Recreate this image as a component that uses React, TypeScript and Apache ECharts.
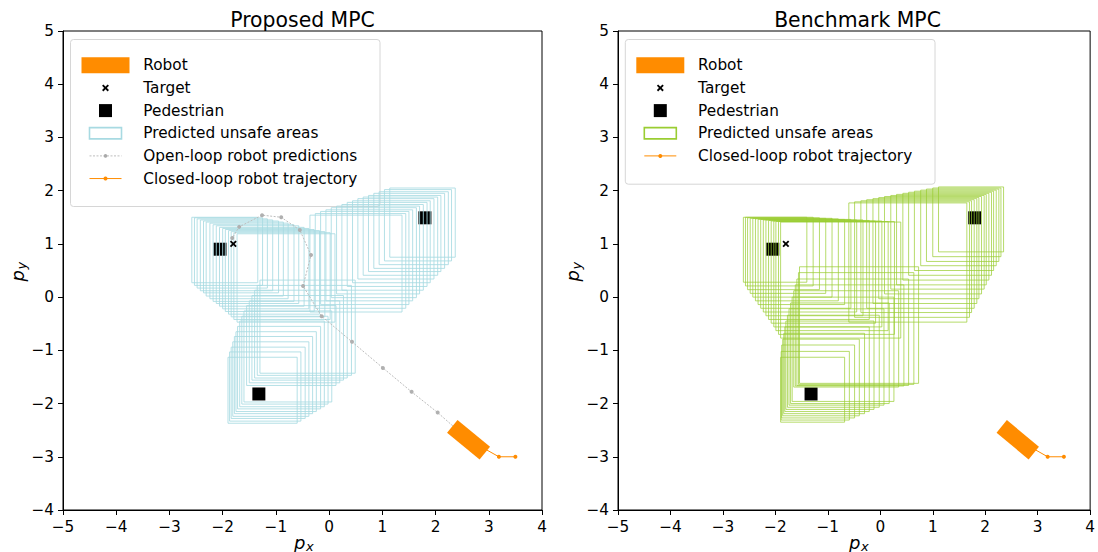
import React, { useEffect, useRef } from "react";
import * as echarts from "echarts";

// ---------------- data ----------------
const X_TICKS = [-5, -4, -3, -2, -1, 0, 1, 2, 3, 4];
const Y_TICKS = [-4, -3, -2, -1, 0, 1, 2, 3, 4, 5];
const PANEL_TITLES = ["Proposed MPC", "Benchmark MPC"];

const TARGET = [[-1.8, 1.0]];
const PEDESTRIANS = [
  [-2.05, 0.9],
  [1.8, 1.49],
  [-1.32, -1.82],
];
// robot: centre x, centre y, heading (deg)
const ROBOT = [[2.62, -2.68, 140.7]];
const CLOSED_LOOP = [
  [3.5, -3.0],
  [3.19, -3.0],
  [2.62, -2.68],
];
const OPEN_LOOP = [
  [2.62, -2.68],
  [2.04, -2.17],
  [1.55, -1.78],
  [1.01, -1.33],
  [0.43, -0.84],
  [-0.14, -0.36],
  [-0.49, 0.21],
  [-0.34, 0.79],
  [-0.55, 1.26],
  [-0.9, 1.5],
  [-1.26, 1.54],
  [-1.69, 1.32],
  [-1.82, 1.11],
];

// predicted unsafe areas: [x1, y1, x2, y2]
const PROPOSED_PED1 = [
  [-2.58, 0.27, -1.34, 1.5],
  [-2.53, 0.22, -1.25, 1.49],
  [-2.48, 0.17, -1.16, 1.47],
  [-2.42, 0.12, -1.06, 1.45],
  [-2.36, 0.08, -0.95, 1.43],
  [-2.31, 0.02, -0.86, 1.41],
  [-2.24, -0.03, -0.77, 1.39],
  [-2.18, -0.08, -0.66, 1.36],
  [-2.12, -0.12, -0.57, 1.34],
  [-2.06, -0.17, -0.47, 1.31],
  [-2.0, -0.22, -0.38, 1.29],
  [-1.95, -0.27, -0.28, 1.27],
  [-1.89, -0.32, -0.18, 1.25],
  [-1.84, -0.37, -0.08, 1.23],
  [-1.79, -0.42, 0.02, 1.21],
  [-1.73, -0.47, 0.11, 1.19],
];
const PROPOSED_PED3 = [
  [-1.9, -2.37, -0.6, -1.13],
  [-1.87, -2.33, -0.53, -1.03],
  [-1.84, -2.28, -0.45, -0.94],
  [-1.81, -2.24, -0.38, -0.84],
  [-1.78, -2.19, -0.31, -0.74],
  [-1.75, -2.15, -0.24, -0.65],
  [-1.72, -2.1, -0.16, -0.55],
  [-1.68, -2.06, -0.09, -0.45],
  [-1.64, -2.01, -0.02, -0.36],
  [-1.6, -1.97, 0.05, -0.26],
  [-1.55, -1.66, 0.13, -0.16],
  [-1.5, -1.61, 0.2, -0.07],
  [-1.45, -1.56, 0.27, 0.03],
  [-1.4, -1.52, 0.34, 0.13],
  [-1.35, -1.47, 0.42, 0.22],
  [-1.3, -1.43, 0.49, 0.32],
];
const PROPOSED_PED2 = [
  [1.14, 0.75, 2.37, 2.05],
  [1.04, 0.68, 2.3, 2.02],
  [0.94, 0.61, 2.24, 1.98],
  [0.84, 0.54, 2.17, 1.95],
  [0.74, 0.48, 2.1, 1.91],
  [0.64, 0.41, 2.04, 1.88],
  [0.54, 0.34, 1.97, 1.85],
  [0.44, 0.27, 1.9, 1.81],
  [0.34, 0.2, 1.84, 1.78],
  [0.24, 0.13, 1.77, 1.74],
  [0.14, 0.06, 1.7, 1.71],
  [0.04, -0.01, 1.64, 1.68],
  [-0.06, -0.07, 1.57, 1.64],
  [-0.16, -0.14, 1.5, 1.61],
  [-0.26, -0.21, 1.44, 1.57],
  [-0.36, -0.28, 1.37, 1.54],
];
const BENCH_PED1 = [
  [-2.61, 0.28, -1.4, 1.5],
  [-2.57, 0.21, -1.28, 1.5],
  [-2.53, 0.14, -1.16, 1.49],
  [-2.48, 0.07, -1.04, 1.48],
  [-2.43, 0.0, -0.92, 1.48],
  [-2.38, -0.07, -0.8, 1.47],
  [-2.33, -0.14, -0.68, 1.46],
  [-2.28, -0.21, -0.56, 1.46],
  [-2.23, -0.28, -0.45, 1.45],
  [-2.18, -0.35, -0.33, 1.45],
  [-2.13, -0.42, -0.21, 1.44],
  [-2.08, -0.49, -0.09, 1.43],
  [-2.03, -0.56, 0.03, 1.43],
  [-1.99, -0.63, 0.15, 1.42],
  [-1.94, -0.7, 0.27, 1.42],
  [-1.9, -0.77, 0.39, 1.41],
];
const BENCH_PED3 = [
  [-1.9, -2.35, -0.68, -1.13],
  [-1.89, -2.31, -0.59, -1.02],
  [-1.88, -2.27, -0.49, -0.9],
  [-1.86, -2.23, -0.4, -0.79],
  [-1.84, -2.19, -0.3, -0.68],
  [-1.82, -2.15, -0.21, -0.56],
  [-1.8, -2.11, -0.12, -0.45],
  [-1.77, -2.07, -0.02, -0.34],
  [-1.74, -2.03, 0.07, -0.22],
  [-1.71, -2.0, 0.17, -0.11],
  [-1.68, -1.96, 0.26, 0.0],
  [-1.65, -1.69, 0.35, 0.12],
  [-1.62, -1.67, 0.45, 0.23],
  [-1.59, -1.66, 0.54, 0.34],
  [-1.56, -1.64, 0.64, 0.46],
  [-1.54, -1.62, 0.73, 0.57],
];
const BENCH_PED2 = [
  [1.11, 0.85, 2.35, 2.07],
  [1.0, 0.76, 2.3, 2.05],
  [0.88, 0.67, 2.26, 2.03],
  [0.77, 0.59, 2.21, 2.01],
  [0.65, 0.5, 2.16, 1.99],
  [0.54, 0.41, 2.12, 1.97],
  [0.43, 0.32, 2.07, 1.95],
  [0.31, 0.23, 2.02, 1.93],
  [0.2, 0.15, 1.98, 1.91],
  [0.08, 0.06, 1.93, 1.89],
  [-0.03, -0.03, 1.88, 1.87],
  [-0.14, -0.12, 1.84, 1.85],
  [-0.26, -0.21, 1.79, 1.83],
  [-0.37, -0.29, 1.74, 1.81],
  [-0.49, -0.38, 1.7, 1.79],
  [-0.6, -0.47, 1.65, 1.77],
];

// ---------------- styles ----------------
const FONT = "DejaVu Sans";
const ORANGE = "#ff8c00";
const BLUE = "rgba(168,218,226,0.85)";
const BLUE_SOLID = "#a8dae2";
const GREEN = "rgba(154,205,50,0.72)";
const GREEN_SOLID = "#9acd32";
const GRAY = "#bdbdbd";
const ROBOT_LEN = 0.79;
const ROBOT_WID = 0.31;

const fmt = (v: number) => (v < 0 ? "\u2212" + -v : String(v));

function rectSeries(data: number[][], color: string, idx: number) {
  return {
    type: "custom",
    xAxisIndex: idx,
    yAxisIndex: idx,
    z: 2,
    silent: true,
    encode: { x: [0, 2], y: [1, 3] },
    data,
    renderItem: (_p: any, api: any) => {
      const a = api.coord([api.value(0), api.value(3)]);
      const b = api.coord([api.value(2), api.value(1)]);
      return {
        type: "rect",
        shape: { x: a[0], y: a[1], width: b[0] - a[0], height: b[1] - a[1] },
        style: { fill: "none", stroke: color, lineWidth: 1 },
      };
    },
  };
}

function robotSeries(idx: number) {
  return {
    type: "custom",
    xAxisIndex: idx,
    yAxisIndex: idx,
    z: 6,
    silent: true,
    data: ROBOT,
    renderItem: (_p: any, api: any) => {
      const cx = api.value(0);
      const cy = api.value(1);
      const ang = (api.value(2) * Math.PI) / 180;
      const ux = Math.cos(ang);
      const uy = Math.sin(ang);
      const L = ROBOT_LEN / 2;
      const W = ROBOT_WID / 2;
      const pts = [
        [L, W],
        [L, -W],
        [-L, -W],
        [-L, W],
      ].map(([a, b]) => api.coord([cx + a * ux - b * uy, cy + a * uy + b * ux]));
      return { type: "polygon", shape: { points: pts }, style: { fill: ORANGE } };
    },
  };
}

function targetSeries(idx: number) {
  return {
    type: "custom",
    xAxisIndex: idx,
    yAxisIndex: idx,
    z: 5,
    silent: true,
    data: TARGET,
    renderItem: (_p: any, api: any) => {
      const p = api.coord([api.value(0), api.value(1)]);
      const s = 2.8;
      const st = { stroke: "#000", lineWidth: 1.8 };
      return {
        type: "group",
        children: [
          { type: "line", shape: { x1: p[0] - s, y1: p[1] - s, x2: p[0] + s, y2: p[1] + s }, style: st },
          { type: "line", shape: { x1: p[0] - s, y1: p[1] + s, x2: p[0] + s, y2: p[1] - s }, style: st },
        ],
      };
    },
  };
}

function pedSeries(idx: number) {
  return {
    type: "scatter",
    xAxisIndex: idx,
    yAxisIndex: idx,
    z: 1,
    silent: true,
    symbol: "rect",
    symbolSize: 13,
    itemStyle: { color: "#000", opacity: 1 },
    data: PEDESTRIANS,
  };
}

function closedLoopSeries(idx: number) {
  return {
    type: "line",
    xAxisIndex: idx,
    yAxisIndex: idx,
    z: 4,
    silent: true,
    data: CLOSED_LOOP,
    symbol: "circle",
    symbolSize: 4,
    showSymbol: true,
    itemStyle: { color: ORANGE },
    lineStyle: { color: ORANGE, width: 1 },
  };
}

function legendGraphic(x0: number, y0: number, w: number, h: number, unsafeColor: string, withOpen: boolean) {
  const cx = x0 + 35;
  const tx = x0 + 72.8;
  const rows = withOpen
    ? ["Robot", "Target", "Pedestrian", "Predicted unsafe areas", "Open-loop robot predictions", "Closed-loop robot trajectory"]
    : ["Robot", "Target", "Pedestrian", "Predicted unsafe areas", "Closed-loop robot trajectory"];
  const rowY = (i: number) => y0 + 25.8 + i * 22.65;
  const children: any[] = [
    {
      type: "rect",
      shape: { x: x0, y: y0, width: w, height: h, r: 3 },
      style: { fill: "rgba(255,255,255,0.8)", stroke: "#d6d6d6", lineWidth: 1 },
    },
  ];
  rows.forEach((label, i) => {
    const y = rowY(i);
    children.push({
      type: "text",
      style: { text: label, x: tx, y, fontSize: 15.3, fontFamily: FONT, fill: "#000", verticalAlign: "middle", align: "left" },
    });
    if (label === "Robot") {
      children.push({ type: "rect", shape: { x: cx - 24, y: y - 8, width: 48, height: 16 }, style: { fill: ORANGE } });
    } else if (label === "Target") {
      const s = 2.8;
      children.push({ type: "line", shape: { x1: cx - s, y1: y - s, x2: cx + s, y2: y + s }, style: { stroke: "#000", lineWidth: 1.8 } });
      children.push({ type: "line", shape: { x1: cx - s, y1: y + s, x2: cx + s, y2: y - s }, style: { stroke: "#000", lineWidth: 1.8 } });
    } else if (label === "Pedestrian") {
      children.push({ type: "rect", shape: { x: cx - 6.5, y: y - 6.5, width: 13, height: 13 }, style: { fill: "#000" } });
    } else if (label === "Predicted unsafe areas") {
      children.push({ type: "rect", shape: { x: cx - 16, y: y - 5.6, width: 32, height: 11.2 }, style: { fill: "none", stroke: unsafeColor, lineWidth: 1.6 } });
    } else if (label.startsWith("Open")) {
      children.push({ type: "line", shape: { x1: cx - 16, y1: y, x2: cx + 16, y2: y }, style: { stroke: GRAY, lineWidth: 1, lineDash: [2, 1.5] } });
      children.push({ type: "circle", shape: { cx, cy: y, r: 1.8 }, style: { fill: "#aaaaaa" } });
    } else {
      children.push({ type: "line", shape: { x1: cx - 16, y1: y, x2: cx + 16, y2: y }, style: { stroke: ORANGE, lineWidth: 1 } });
      children.push({ type: "circle", shape: { cx, cy: y, r: 2 }, style: { fill: ORANGE } });
    }
  });
  return { type: "group", z: 20, children };
}

function axisLabelGraphic(px: number, py: number, sub: string, rotate: boolean) {
  return {
    type: "group",
    x: px,
    y: py,
    rotation: rotate ? Math.PI / 2 : 0,
    z: 20,
    children: [
      { type: "text", style: { text: "p", x: 0, y: 0, fontSize: 18, fontStyle: "italic", fontFamily: FONT, fill: "#000", align: "right", verticalAlign: "middle" } },
      { type: "text", style: { text: sub, x: 0.5, y: 4, fontSize: 13, fontStyle: "italic", fontFamily: FONT, fill: "#000", align: "left", verticalAlign: "middle" } },
    ],
  };
}

const GRID_LEFTS = [63, 618];
const GRID_TOP = 31;
const GRID_SIZE = 479;

export default function App() {
  const ref = useRef<HTMLDivElement>(null);
  useEffect(() => {
    if (!ref.current) return;
    const chart = echarts.init(ref.current, undefined, { renderer: "svg" });
    const axisCommon = {
      type: "value",
      interval: 1,
      splitLine: { show: false },
      axisLine: { show: true, onZero: false, lineStyle: { color: "#000", width: 1 } },
      axisTick: { show: true, inside: false, length: 5, lineStyle: { color: "#000", width: 1 } },
      axisLabel: { color: "#000", fontSize: 15.3, fontFamily: FONT, formatter: fmt },
    };
    const xAxis = GRID_LEFTS.map((_, i) => ({
      ...axisCommon,
      gridIndex: i,
      min: X_TICKS[0],
      max: X_TICKS[X_TICKS.length - 1],
      axisLabel: { ...axisCommon.axisLabel, margin: 9 },
    }));
    const yAxis = GRID_LEFTS.map((_, i) => ({
      ...axisCommon,
      gridIndex: i,
      min: Y_TICKS[0],
      max: Y_TICKS[Y_TICKS.length - 1],
      axisLabel: { ...axisCommon.axisLabel, margin: 9 },
    }));
    const option: any = {
      animation: false,
      backgroundColor: "#fff",
      grid: GRID_LEFTS.map((l) => ({
        left: l,
        top: GRID_TOP,
        width: GRID_SIZE,
        height: GRID_SIZE,
        show: true,
        borderColor: "#000",
        borderWidth: 1,
        backgroundColor: "transparent",
      })),
      xAxis,
      yAxis,
      series: [
        pedSeries(0),
        rectSeries(PROPOSED_PED1, BLUE, 0),
        rectSeries(PROPOSED_PED3, BLUE, 0),
        rectSeries(PROPOSED_PED2, BLUE, 0),
        {
          type: "line",
          xAxisIndex: 0,
          yAxisIndex: 0,
          z: 3,
          silent: true,
          data: OPEN_LOOP,
          symbol: "circle",
          symbolSize: 4,
          showSymbol: true,
          itemStyle: { color: "#b0b0b0" },
          lineStyle: { color: GRAY, width: 1, type: [2, 1.5] },
        },
        closedLoopSeries(0),
        targetSeries(0),
        robotSeries(0),
        pedSeries(1),
        rectSeries(BENCH_PED1, GREEN, 1),
        rectSeries(BENCH_PED3, GREEN, 1),
        rectSeries(BENCH_PED2, GREEN, 1),
        closedLoopSeries(1),
        targetSeries(1),
        robotSeries(1),
      ],
      graphic: [
        ...PANEL_TITLES.map((t, i) => ({
          type: "text",
          z: 20,
          style: {
            text: t,
            x: GRID_LEFTS[i] + GRID_SIZE / 2,
            y: 19.5,
            fontSize: 20.4,
            fontFamily: FONT,
            fill: "#000",
            align: "center",
            verticalAlign: "middle",
          },
        })),
        legendGraphic(70.5, 39.5, 309.5, 167, BLUE_SOLID, true),
        legendGraphic(625.3, 39.5, 309.7, 144.7, GREEN_SOLID, false),
        axisLabelGraphic(GRID_LEFTS[0] + GRID_SIZE / 2 + 3, 542, "x", false),
        axisLabelGraphic(GRID_LEFTS[1] + GRID_SIZE / 2 + 3, 542, "x", false),
        axisLabelGraphic(17, 270, "y", true),
        axisLabelGraphic(572, 270, "y", true),
      ],
    };
    chart.setOption(option);
    return () => chart.dispose();
  }, []);
  return (
    <div
      ref={ref}
      style={{ position: "absolute", left: 0, top: 0, width: 1098, height: 552 }}
    />
  );
}
